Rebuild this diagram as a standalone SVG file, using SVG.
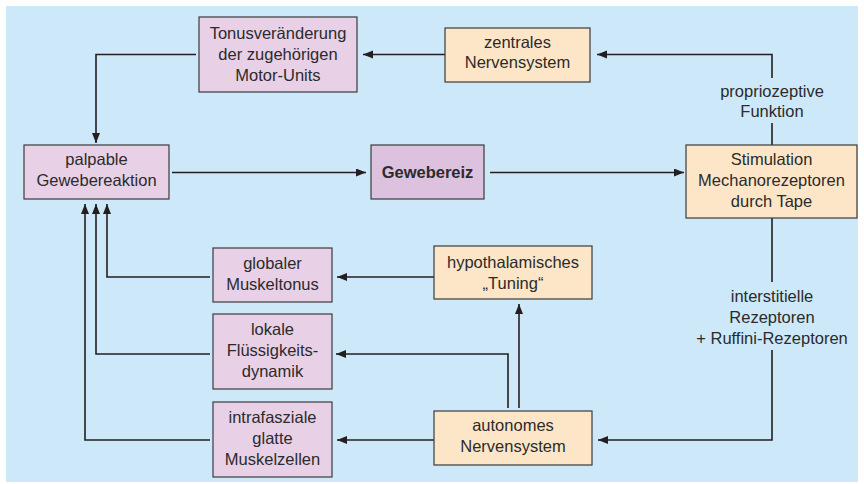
<svg xmlns="http://www.w3.org/2000/svg" width="864" height="484" viewBox="0 0 864 484">
<style>
.bg{fill:#cde9f9}
.p{fill:#e8d0e7;stroke:#3a3a3a;stroke-width:1.2}
.pd{fill:#dcc2de;stroke:#3a3a3a;stroke-width:1.2}
.o{fill:#fde6c8;stroke:#3a3a3a;stroke-width:1.2}
text{font-family:"Liberation Sans",Arial,sans-serif;font-size:16.5px;fill:#2b2b2b;text-anchor:middle}
.b{font-weight:bold}
.c{fill:none;stroke:#231f20;stroke-width:1.6}
</style>
<defs>
<marker id="ah" markerUnits="userSpaceOnUse" markerWidth="11" markerHeight="9" refX="10" refY="4" orient="auto">
<path d="M0,0 L10,4 L0,8 z" fill="#231f20"/>
</marker>
</defs>
<rect class="bg" x="6" y="6" width="852" height="476"/>
<g id="connectors">
<path class="c" d="M772,78 V54.5 H597" marker-end="url(#ah)"/>
<path class="c" d="M772,123 V145"/>
<path class="c" d="M445,54.5 H363" marker-end="url(#ah)"/>
<path class="c" d="M196,54.5 H96 V143" marker-end="url(#ah)"/>
<path class="c" d="M172,172.5 H366" marker-end="url(#ah)"/>
<path class="c" d="M490,172.5 H684" marker-end="url(#ah)"/>
<path class="c" d="M772,218 V282"/>
<path class="c" d="M772,350 V440 H598" marker-end="url(#ah)"/>
<path class="c" d="M519,408 V304" marker-end="url(#ah)"/>
<path class="c" d="M508,408 V354 H336" marker-end="url(#ah)"/>
<path class="c" d="M434,277 H337" marker-end="url(#ah)"/>
<path class="c" d="M434,440 H337" marker-end="url(#ah)"/>
<path class="c" d="M210,277 H107 V204" marker-end="url(#ah)"/>
<path class="c" d="M210,354 H96 V204" marker-end="url(#ah)"/>
<path class="c" d="M210,440 H85 V204" marker-end="url(#ah)"/>
</g>
<text x="772" y="97">propriozeptive</text>
<text x="772" y="117">Funktion</text>
<text x="772" y="302">interstitielle</text>
<text x="772" y="323">Rezeptoren</text>
<text x="772" y="344">+ Ruffini-Rezeptoren</text>
<g id="tonus">
<rect class="p" x="199" y="17" width="158" height="75"/>
<text x="278" y="39">Tonusveränderung</text>
<text x="278" y="60">der zugehörigen</text>
<text x="278" y="81">Motor-Units</text>
</g>
<g id="zns">
<rect class="o" x="445" y="28" width="145" height="54"/>
<text x="517.5" y="47.5">zentrales</text>
<text x="517.5" y="68">Nervensystem</text>
</g>
<g id="palpable">
<rect class="p" x="24" y="145" width="145" height="54"/>
<text x="96.5" y="165">palpable</text>
<text x="96.5" y="186">Gewebereaktion</text>
</g>
<g id="gewebereiz">
<rect class="pd" x="371" y="145" width="113" height="54"/>
<text class="b" x="427.5" y="178">Gewebereiz</text>
</g>
<g id="stimulation">
<rect class="o" x="686" y="145" width="171" height="73"/>
<text x="771.5" y="165">Stimulation</text>
<text x="771.5" y="186">Mechanorezeptoren</text>
<text x="771.5" y="207">durch Tape</text>
</g>
<g id="hypothalamisch">
<rect class="o" x="434" y="246" width="158" height="53"/>
<text x="513" y="268">hypothalamisches</text>
<text x="513" y="289">„Tuning“</text>
</g>
<g id="autonom">
<rect class="o" x="434" y="411" width="158" height="54"/>
<text x="513" y="431">autonomes</text>
<text x="513" y="452">Nervensystem</text>
</g>
<g id="global">
<rect class="p" x="213" y="248" width="119" height="54"/>
<text x="272.5" y="269">globaler</text>
<text x="272.5" y="290">Muskeltonus</text>
</g>
<g id="lokal">
<rect class="p" x="213" y="314" width="119" height="75"/>
<text x="272.5" y="335">lokale</text>
<text x="272.5" y="356">Flüssigkeits-</text>
<text x="272.5" y="377">dynamik</text>
</g>
<g id="intrafaszial">
<rect class="p" x="213" y="402" width="119" height="75"/>
<text x="272.5" y="423">intrafasziale</text>
<text x="272.5" y="444">glatte</text>
<text x="272.5" y="465">Muskelzellen</text>
</g>
</svg>
